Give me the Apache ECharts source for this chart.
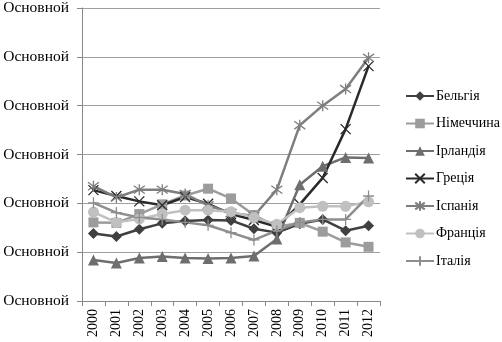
<!DOCTYPE html>
<html><head><meta charset="utf-8">
<script src="https://cdn.jsdelivr.net/npm/echarts@6/dist/echarts.min.js"></script>
<style>html,body{margin:0;padding:0;background:#fff}#c{width:502px;height:342px}</style>
</head><body><div id="c"></div>
<script>
const years = ['2000','2001','2002','2003','2004','2005','2006','2007','2008','2009','2010','2011','2012'];
const yTickLabel = 'Основной';
const belgium = [1.38,1.32,1.47,1.59,1.64,1.66,1.65,1.48,1.40,1.58,1.67,1.44,1.54];
const germany = [1.61,1.60,1.78,1.98,2.16,2.30,2.10,1.76,1.52,1.60,1.42,1.20,1.11];
const ireland = [0.84,0.78,0.88,0.91,0.88,0.87,0.88,0.92,1.27,2.38,2.76,2.94,2.93];
const greece  = [2.27,2.15,2.04,1.96,2.13,1.99,1.78,1.66,1.52,1.98,2.52,3.52,4.81];
const spain   = [2.35,2.12,2.28,2.28,2.19,1.96,1.80,1.74,2.28,3.60,4.00,4.34,4.98];
const france  = [1.82,1.61,1.68,1.78,1.86,1.86,1.83,1.71,1.57,1.91,1.94,1.94,2.03];
const italy   = [2.01,1.81,1.71,1.67,1.61,1.55,1.40,1.25,1.44,1.61,1.67,1.67,2.15];
const names = ['Бельгія','Німеччина','Ірландія','Греція','Іспанія','Франція','Італія'];

const xSym = 'path://M0,0L10,10M10,0L0,10';
const starSym = 'path://M0,0L10,10M10,0L0,10M5,-2L5,12';
const plusSym = 'path://M5,0L5,10M0,5L10,5';

function mk(name, data, color, symbol, size, stroked){
  return {
    name, type:'line', data, symbol, symbolSize:size,
    lineStyle:{color, width:2.5},
    itemStyle: stroked ? {color:'transparent', borderColor:color, borderWidth:1.3} : {color, borderColor:color, borderWidth:0},
    color: color,
    emphasis:{disabled:true}, animation:false
  };
}
const series = [
  mk(names[0], belgium, '#404040', 'diamond', 11, false),
  mk(names[1], germany, '#9c9c9c', 'rect', 10, false),
  mk(names[2], ireland, '#6e6e6e', 'triangle', 11, false),
  mk(names[3], greece, '#2a2a2a', xSym, 10, true),
  mk(names[4], spain, '#7e7e7e', starSym, 11, true),
  mk(names[5], france, '#c0c0c0', 'circle', 11, false),
  mk(names[6], italy, '#8e8e8e', plusSym, 11, true)
];

const chart = echarts.init(document.getElementById('c'), null, {renderer:'canvas'});
chart.setOption({
  animation:false,
  backgroundColor:'#fff',
  textStyle:{fontFamily:'Liberation Serif'},
  grid:{left:82, right:122, top:5, bottom:41, containLabel:false},
  legend:{
    orient:'vertical', left:400, top:84, itemGap:13.5, itemWidth:28, itemHeight:12,
    data:names,
    textStyle:{fontFamily:'Liberation Serif', fontSize:14, color:'#000', padding:[0,0,0,-3]}
  },
  xAxis:{
    type:'category', data:years, boundaryGap:true,
    axisLine:{lineStyle:{color:'#888', width:1}},
    axisTick:{show:true, length:5, lineStyle:{color:'#888'}},
    axisLabel:{rotate:90, margin:8, fontFamily:'Liberation Serif', fontSize:14, color:'#000', interval:0}
  },
  yAxis:{
    type:'value', min:0, max:6, interval:1,
    axisLine:{show:true, lineStyle:{color:'#888', width:1}},
    axisTick:{show:true, length:5, lineStyle:{color:'#888'}},
    splitLine:{lineStyle:{color:'#a0a0a0', width:1}},
    axisLabel:{formatter:()=>yTickLabel, margin:13, fontFamily:'Liberation Serif', fontSize:15.5, color:'#000'}
  },
  series
});
</script></body></html>
